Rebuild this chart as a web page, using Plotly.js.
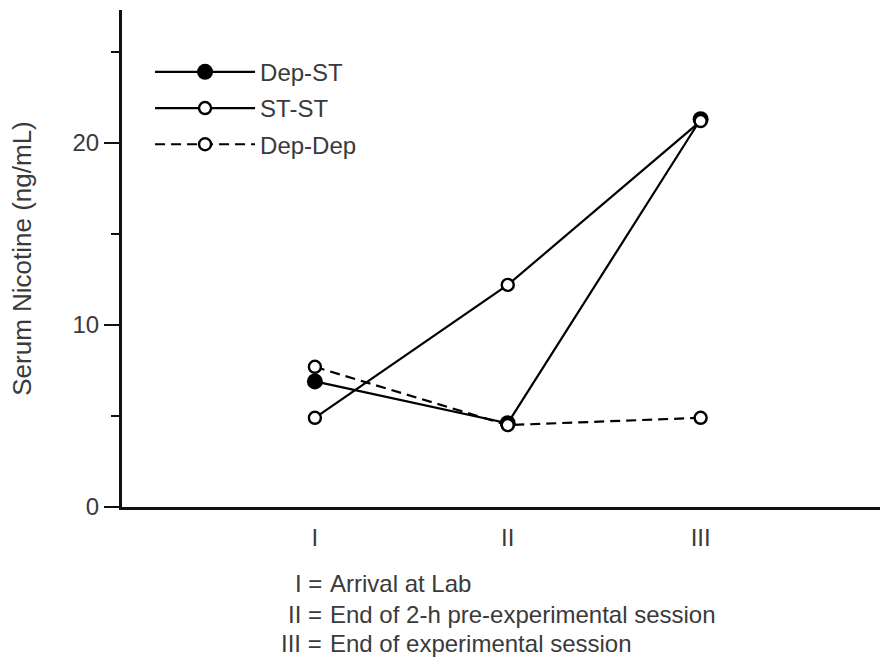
<!DOCTYPE html>
<html>
<head>
<meta charset="utf-8">
<script src="https://cdn.plot.ly/plotly-3.0.1.min.js"></script>
<style>html,body{margin:0;padding:0;background:#fff;}#chart{width:880px;height:657px;}</style>
</head>
<body>
<div id="chart"></div>
<script>
// Time points
var timeLabels = ['I', 'II', 'III'];
var timePos = [1, 2, 3];
var timeDescriptions = ['Arrival at Lab', 'End of 2-h pre-experimental session', 'End of experimental session'];

// Serum nicotine (ng/mL)
var seriesNames = ['Dep-ST', 'ST-ST', 'Dep-Dep'];
var depST = [6.9, 4.6, 21.3];
var stST = [4.9, 12.2, 21.2];
var depDep = [7.7, 4.5, 4.9];

var yTicks = [0, 10, 20];

var FONT = 'Liberation Sans, Arial, Helvetica, sans-serif';
var TXT = '#3a3a3a';
var FS = 24;

var traces = [
  {
    x: timePos, y: depST, name: seriesNames[0], mode: 'lines+markers', legendgroup: 'a',
    line: {color: '#000', width: 2.2},
    marker: {symbol: 'circle', size: 16, color: '#000'}
  },
  {
    x: timePos, y: stST, name: seriesNames[1], mode: 'lines+markers', legendgroup: 'b',
    line: {color: '#000', width: 2.2},
    marker: {symbol: 'circle', size: 12, color: '#fff', line: {color: '#000', width: 2.4}}
  },
  {
    x: timePos, y: depDep, name: seriesNames[2], mode: 'lines+markers', legendgroup: 'c',
    line: {color: '#000', width: 2.2, dash: '10px,6px'},
    marker: {symbol: 'circle', size: 12, color: '#fff', line: {color: '#000', width: 2.4}}
  }
];

var annotations = [];
var rowY = [583, 614, 643];
function py(p) { return (507 - p) / 497; }
function px(p) { return (p - 122) / 758; }
for (var i = 0; i < timeLabels.length; i++) {
  annotations.push({
    xref: 'paper', yref: 'paper', x: px(324), y: py(rowY[i]), xanchor: 'right', yanchor: 'middle',
    text: timeLabels[i] + ' =', showarrow: false, font: {family: FONT, size: FS, color: TXT}
  });
  annotations.push({
    xref: 'paper', yref: 'paper', x: px(328), y: py(rowY[i]), xanchor: 'left', yanchor: 'middle',
    text: timeDescriptions[i], showarrow: false, font: {family: FONT, size: FS, color: TXT}
  });
}

var layout = {
  width: 880, height: 657,
  margin: {l: 122, r: 0, t: 10, b: 150},
  paper_bgcolor: '#fff', plot_bgcolor: '#fff',
  font: {family: FONT, size: FS, color: TXT},
  showlegend: true,
  legend: {
    x: 0.037, y: 0.92, xanchor: 'left', yanchor: 'top',
    bgcolor: 'rgba(0,0,0,0)', itemwidth: 100, tracegroupgap: 2,
    font: {family: FONT, size: FS, color: TXT}
  },
  xaxis: {
    range: [0, 3.93], showgrid: false, zeroline: false,
    showline: true, linecolor: '#111', linewidth: 2.5,
    tickmode: 'array', tickvals: timePos, ticktext: timeLabels,
    ticks: '', ticklabelstandoff: 8,
    tickfont: {family: FONT, size: FS, color: TXT}
  },
  yaxis: {
    range: [0, 27.3], showgrid: false, zeroline: false,
    showline: true, linecolor: '#111', linewidth: 3,
    tickmode: 'array', tickvals: yTicks,
    ticks: 'outside', ticklen: 15, tickwidth: 2.5, tickcolor: '#111',
    minor: {tickmode: 'linear', tick0: 0, dtick: 5, ticks: 'outside', ticklen: 8, tickwidth: 2, tickcolor: '#111'},
    tickfont: {family: FONT, size: FS, color: TXT},
    title: {text: 'Serum Nicotine (ng/mL)', font: {family: FONT, size: 26, color: TXT}, standoff: 34}
  },
  annotations: annotations
};

Plotly.newPlot('chart', traces, layout, {displayModeBar: false, staticPlot: true});
</script>
</body>
</html>
